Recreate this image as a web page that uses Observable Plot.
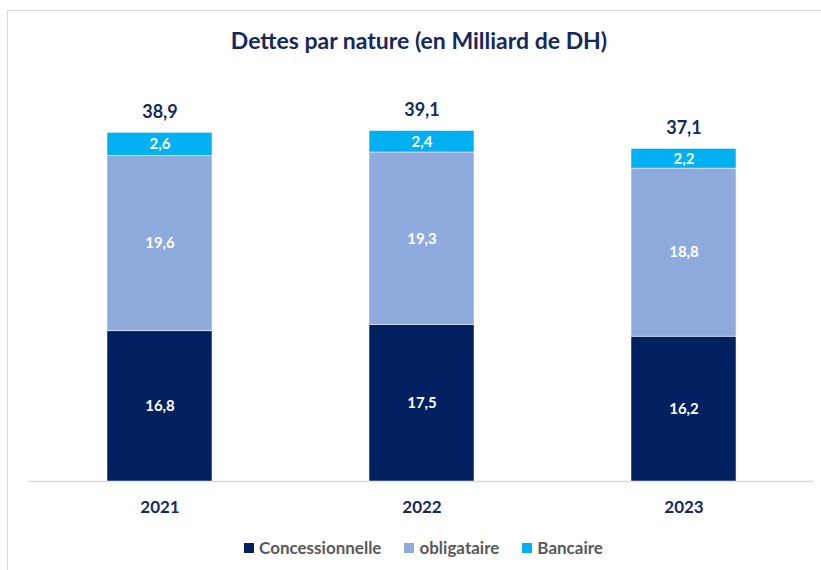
<!DOCTYPE html>
<html>
<head>
<meta charset="utf-8">
<script src="https://cdn.jsdelivr.net/npm/d3@7"></script>
<script src="https://cdn.jsdelivr.net/npm/@observablehq/plot@0.6"></script>
<style>
  html, body { margin: 0; padding: 0; background: #fff; }
  body { width: 821px; height: 570px; position: relative; overflow: hidden; font-family: Lato, "Open Sans", sans-serif; }
  #frame { position: absolute; left: 7px; top: 10px; width: 900px; height: 700px; border-top: 1px solid #d9d9d9; border-left: 1px solid #d9d9d9; }
  #title { position: absolute; left: 0; width: 838px; top: 26px; text-align: center; font-weight: 700; font-size: 23px; color: #14295e; }
  #chart { position: absolute; left: 0; top: 60px; }
  #legend { position: absolute; left: 0; width: 847px; top: 537px; display: flex; justify-content: center; gap: 23px; font-size: 17px; font-weight: 700; color: #595959; }
  #legend span.item { display: flex; align-items: center; }
  #legend i { display: inline-block; width: 10px; height: 10px; margin-right: 5px; }
</style>
</head>
<body>
<div id="frame"></div>
<div id="title">Dettes par nature (en Milliard de DH)</div>
<div id="chart"></div>
<div id="legend"></div>
<script>
const years = ["2021", "2022", "2023"];
const seriesNames = ["Concessionnelle", "obligataire", "Bancaire"];
const seriesColors = ["#002060", "#8faadc", "#00b0f0"];
const concessionnelle = [16.8, 17.5, 16.2];
const obligataire = [19.6, 19.3, 18.8];
const bancaire = [2.6, 2.4, 2.2];
const totals = [38.9, 39.1, 37.1];

const seriesValues = [concessionnelle, obligataire, bancaire];
const rows = [];
seriesNames.forEach((s, i) => years.forEach((y, j) => rows.push({year: y, series: s, value: seriesValues[i][j]})));
const totalRows = years.map((y, j) => ({year: y, top: concessionnelle[j] + obligataire[j] + bancaire[j], total: totals[j]}));
const fmt = v => d3.format(".1f")(v).replace(".", ",");

const chart = Plot.plot({
  width: 821,
  height: 460,
  marginLeft: 28,
  marginRight: 7,
  marginTop: 16,
  marginBottom: 39,
  style: {fontFamily: "Lato, 'Open Sans', sans-serif", background: "transparent"},
  x: {domain: years, paddingInner: 0.6, paddingOuter: 0.3, label: null, tickSize: 0, tickPadding: 19},
  y: {domain: [0, 45.3], axis: null},
  color: {domain: seriesNames, range: seriesColors, legend: false},
  marks: [
    Plot.ruleY([0], {stroke: "#d9d9d9", strokeWidth: 1.5}),
    Plot.barY(rows, Plot.stackY({x: "year", y: "value", z: "series", fill: "series", order: seriesNames, stroke: "white", strokeWidth: 0.5})),
    Plot.text(rows, Plot.stackY({x: "year", y: "value", z: "series", order: seriesNames, text: d => fmt(d.value), fill: "white", fontSize: 15, fontWeight: "bold"})),
    Plot.text(totalRows, {x: "year", y: "top", text: d => fmt(d.total), dy: -21, fill: "#14295e", fontSize: 18, fontWeight: "bold"}),
    Plot.axisX({tickSize: 0, tickPadding: 19, fontSize: 17, fontWeight: "bold", color: "#14295e", label: null})
  ]
});
document.getElementById("chart").appendChild(chart);

const legend = document.getElementById("legend");
seriesNames.forEach((s, i) => {
  const item = document.createElement("span");
  item.className = "item";
  const sw = document.createElement("i");
  sw.style.background = seriesColors[i];
  item.appendChild(sw);
  item.appendChild(document.createTextNode(s));
  legend.appendChild(item);
});
</script>
</body>
</html>
